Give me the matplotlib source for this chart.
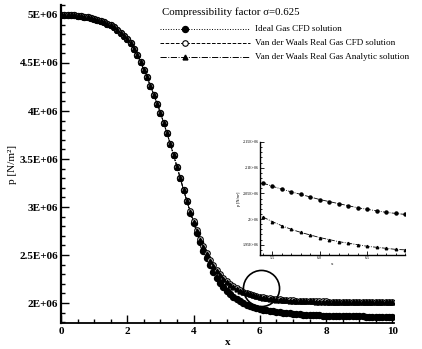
import numpy as np
import matplotlib
matplotlib.use("Agg")
import matplotlib.pyplot as plt
from matplotlib.lines import Line2D
from matplotlib.ticker import MultipleLocator, FuncFormatter

plt.rcParams['font.family'] = ['Liberation Serif', 'DejaVu Serif']

# grid along the duct
x = [round(0.1 * i, 1) for i in range(101)]

# pressure, units of 1E+06 N/m^2
p_ideal = [5.000, 5.000, 4.999, 4.997, 4.995, 4.992, 4.988, 4.983, 4.977, 4.970,
           4.961, 4.951, 4.939, 4.925, 4.909, 4.891, 4.871, 4.848, 4.815, 4.785,
           4.750, 4.705, 4.650, 4.585, 4.510, 4.432, 4.350, 4.262, 4.170, 4.077,
           3.983, 3.876, 3.767, 3.655, 3.539, 3.420, 3.300, 3.178, 3.058, 2.942,
           2.832, 2.730, 2.635, 2.547, 2.466, 2.392, 2.325, 2.265, 2.212, 2.166,
           2.126, 2.092, 2.063, 2.038, 2.017, 1.999, 1.984, 1.971, 1.959, 1.949,
           1.940, 1.932, 1.925, 1.919, 1.913, 1.908, 1.903, 1.899, 1.895, 1.891,
           1.888, 1.885, 1.882, 1.880, 1.878, 1.876, 1.874, 1.872, 1.871, 1.869,
           1.868, 1.867, 1.866, 1.865, 1.864, 1.863, 1.862, 1.862, 1.861, 1.861,
           1.860, 1.860, 1.859, 1.859, 1.858, 1.858, 1.858, 1.857, 1.857, 1.857,
           1.857]

p_vdw_cfd = p_ideal[:38] + [
    3.065, 2.955, 2.852, 2.757, 2.669, 2.589, 2.516, 2.451, 2.393, 2.342,
    2.298, 2.260, 2.227, 2.199, 2.175, 2.154, 2.136, 2.120, 2.106, 2.094,
    2.083, 2.074, 2.066, 2.059, 2.053, 2.048, 2.044, 2.040, 2.037, 2.034,
    2.031, 2.029, 2.027, 2.025, 2.024, 2.022, 2.021, 2.020, 2.019, 2.018,
    2.017, 2.016, 2.016, 2.015, 2.015, 2.014, 2.014, 2.013, 2.013, 2.013,
    2.012, 2.012, 2.012, 2.012, 2.011, 2.011, 2.011, 2.011, 2.011, 2.010,
    2.010, 2.010, 2.010]

p_vdw_exact = p_ideal[:38] + [
    3.062, 2.950, 2.846, 2.750, 2.661, 2.580, 2.507, 2.442, 2.384, 2.333,
    2.289, 2.251, 2.218, 2.190, 2.166, 2.145, 2.128, 2.113, 2.100, 2.089,
    2.079, 2.070, 2.062, 2.055, 2.049, 2.044, 2.040, 2.036, 2.033, 2.030,
    2.028, 2.026, 2.024, 2.022, 2.021, 2.019, 2.018, 2.017, 2.016, 2.015,
    2.014, 2.014, 2.013, 2.013, 2.012, 2.012, 2.011, 2.011, 2.011, 2.010,
    2.010, 2.010, 2.010, 2.009, 2.009, 2.009, 2.009, 2.009, 2.008, 2.008,
    2.008, 2.008, 2.008]

# zoomed detail (inset)
x_zoom = [5.4, 5.5, 5.6, 5.7, 5.8, 5.9, 6.0, 6.1, 6.2, 6.3, 6.4, 6.5, 6.6, 6.7, 6.8, 6.9]
p_zoom_top = [2.070, 2.064, 2.058, 2.053, 2.048, 2.043, 2.038, 2.034, 2.030, 2.026,
              2.022, 2.019, 2.016, 2.013, 2.011, 2.009]
p_zoom_bot = [2.004, 1.995, 1.987, 1.980, 1.974, 1.969, 1.964, 1.960, 1.956, 1.953,
              1.950, 1.947, 1.945, 1.943, 1.941, 1.940]

circle_at = (6.05, 2.156)

legend_title = 'Compressibility factor \u03c3=0.625'
labels = ['Ideal Gas CFD solution',
          'Van der Waals Real Gas CFD solution',
          'Van der Waals Real Gas Analytic solution']

W, H = 422, 349


def sci(v, pos):
    return '%gE+06' % v


def fx(px):
    return px / W


def fy(py):
    return 1 - py / H


fig = plt.figure(figsize=(W / 100, H / 100), dpi=100)
ax = fig.add_axes([fx(61), fy(323), 333 / W, 318 / H])

E6 = 1e6
styles = [dict(ls=':', marker='o', ms=4.3, mfc='k', mec='k'),
          dict(ls='--', marker='o', ms=4, mfc='white', mec='k', mew=0.8),
          dict(ls='-.', marker='^', ms=3.5, mfc='k', mec='k')]

for p, st in zip([p_ideal, p_vdw_cfd, p_vdw_exact], styles):
    ax.plot(x, np.array(p) * E6, lw=0.7, color='k', **st)
ax.plot([circle_at[0]], [circle_at[1] * E6], marker='o', ms=26, mfc='none', mec='k',
        mew=1.2, ls='none')

ax.set_xlim(0, 10.05)
ax.set_ylim(1.792e6, 5.104e6)
ax.xaxis.set_major_locator(MultipleLocator(2))
ax.xaxis.set_minor_locator(MultipleLocator(0.5))
ax.yaxis.set_major_locator(MultipleLocator(0.5e6))
ax.yaxis.set_minor_locator(MultipleLocator(0.1e6))
ax.yaxis.set_major_formatter(FuncFormatter(lambda v, pos: sci(v / E6, pos)))
ax.tick_params(which='both', direction='in', width=1.0, labelsize=8)
ax.tick_params(which='major', length=6)
ax.tick_params(which='minor', length=3)
ax.tick_params(axis='y', pad=2)
ax.tick_params(axis='x', pad=3)
for lab in ax.get_xticklabels() + ax.get_yticklabels():
    lab.set_fontweight('bold')
ax.spines['top'].set_visible(False)
ax.spines['right'].set_visible(False)
ax.spines['left'].set_linewidth(1.6)
ax.spines['bottom'].set_linewidth(1.3)
ax.set_xlabel('x', fontsize=8, fontweight='bold', labelpad=1)
ax.set_ylabel('p [N/m\u00b2]', fontsize=8, labelpad=2)

# legend drawn by hand: title, then line sample with marker near its left end
fig.text(fx(162), fy(12), legend_title, fontsize=7.8, va='center', ha='left')
for i, (lab, st) in enumerate(zip(labels, styles)):
    yy = fy(29 + 14 * i)
    fig.add_artist(Line2D([fx(160), fx(250)], [yy, yy], lw=0.7, color='k', ls=st['ls']))
    mk = {k: v for k, v in st.items() if k != 'ls'}
    fig.add_artist(Line2D([fx(185)], [yy], ls='none', **mk))
    fig.text(fx(255), yy, lab, fontsize=6.6, va='center', ha='left')

# inset
ins = fig.add_axes([fx(260), fy(255), 145 / W, 113 / H])
ins.plot(x_zoom, np.array(p_zoom_top) * E6, ls='-.', lw=0.6, color='k', marker='o',
         ms=2.2, mfc='k', mec='k')
ins.plot(x_zoom, np.array(p_zoom_bot) * E6, ls='-.', lw=0.6, color='k', marker='^',
         ms=1.8, mfc='k', mec='k')
ins.set_xlim(5.37, 6.9)
ins.set_ylim(1.93e6, 2.15e6)
ins.xaxis.set_major_locator(MultipleLocator(0.5))
ins.xaxis.set_minor_locator(MultipleLocator(0.1))
ins.yaxis.set_major_locator(MultipleLocator(0.05e6))
ins.yaxis.set_minor_locator(MultipleLocator(0.01e6))
ins.yaxis.set_major_formatter(FuncFormatter(lambda v, pos: sci(v / E6, pos)))
ins.tick_params(which='both', direction='in', width=0.6, labelsize=3, pad=1)
ins.tick_params(which='major', length=3)
ins.tick_params(which='minor', length=1.5)
ins.spines['top'].set_visible(False)
ins.spines['right'].set_visible(False)
ins.spines['left'].set_linewidth(1.0)
ins.spines['bottom'].set_linewidth(1.0)
ins.set_xlabel('x', fontsize=3.5, labelpad=1)
ins.set_ylabel('p [N/m\u00b2]', fontsize=3, labelpad=1)

fig.savefig('out.png', dpi=100)
